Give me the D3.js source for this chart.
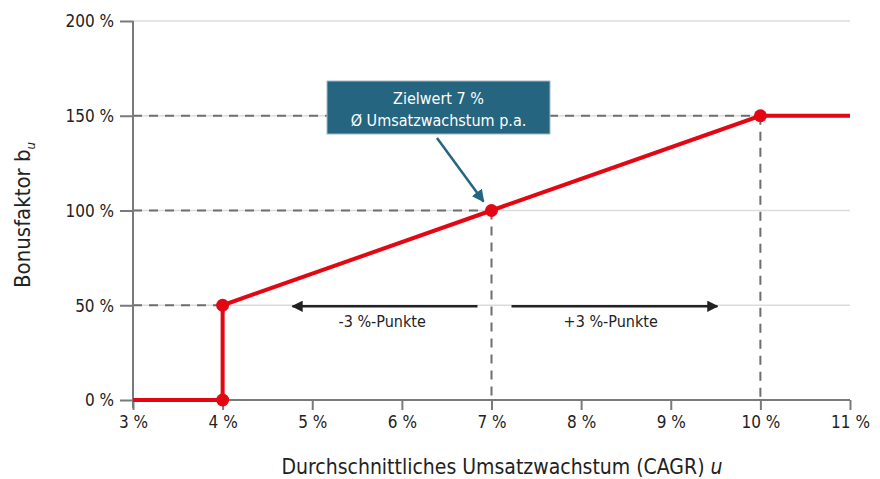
<!DOCTYPE html>
<html><head><meta charset="utf-8">
<script src="https://cdn.jsdelivr.net/npm/d3@7"></script>
<style>
body{margin:0;background:#fff;}
text{font-family:"Liberation Sans Narrow","DejaVu Sans Condensed",sans-serif;}
</style></head>
<body><svg id="c" width="880" height="479"></svg>
<script>
const xTicks = [3,4,5,6,7,8,9,10,11];
const yTicks = [0,50,100,150,200];
const curveX = [3,4,4,7,10,11];
const curveY = [0,0,50,100,150,150];
const markerX = [4,4,7,10];
const markerY = [0,50,100,150];
const guideX = [4,7,10];
const guideY = [50,100,150];

const svg = d3.select("#c");
const x = d3.scaleLinear().domain([3,11]).range([133,850]);
const y = d3.scaleLinear().domain([0,200]).range([400,21]);
const axisCol = "#7a7a7a";
const red = "#e30613";

// light gridlines
svg.append("g").selectAll("line").data(yTicks.filter(d=>d>0)).join("line")
  .attr("x1",x(3)).attr("x2",x(11)).attr("y1",d=>y(d)).attr("y2",d=>y(d))
  .attr("stroke","#dcdcdc").attr("stroke-width",1.5);

// dashed guides
const dash = "9,7";
svg.append("g").selectAll("line").data(guideX.map((g,i)=>[g,guideY[i]])).join("line")
  .attr("x1",x(3)).attr("x2",d=>x(d[0])).attr("y1",d=>y(d[1])).attr("y2",d=>y(d[1]))
  .attr("stroke","#6e6e6e").attr("stroke-width",2).attr("stroke-dasharray",dash);
svg.append("g").selectAll("line").data(guideX.slice(1).map((g,i)=>[g,guideY[i+1]])).join("line")
  .attr("x1",d=>x(d[0])).attr("x2",d=>x(d[0])).attr("y1",d=>y(d[1])).attr("y2",y(0))
  .attr("stroke","#6e6e6e").attr("stroke-width",2).attr("stroke-dasharray",dash);

// axes
const yAxis = d3.axisLeft(y).tickValues(yTicks).tickFormat(d=>d+" %").tickSize(13).tickPadding(6);
const gy = svg.append("g").attr("transform",`translate(${x(3)},0)`).call(yAxis);
const xAxis = d3.axisBottom(x).tickValues(xTicks).tickFormat(d=>d+" %").tickSize(10).tickPadding(6);
const gx = svg.append("g").attr("transform",`translate(0,${y(0)})`).call(xAxis);
[gx,gy].forEach(g=>{
  g.select(".domain").attr("stroke",axisCol).attr("stroke-width",2);
  g.selectAll(".tick line").attr("stroke",axisCol).attr("stroke-width",2);
  g.selectAll(".tick text").attr("fill","#222").attr("font-size",17)
   .style("font-family",'"Liberation Sans Narrow","DejaVu Sans Condensed",sans-serif');
});
gy.select(".domain").attr("d",`M0,${y(200)}V${y(0)+8}`);
gx.select(".domain").attr("d",`M${x(3)},0H${x(11)}`);
gy.selectAll(".tick text").attr("dy","0.35em");

// arrows
const defs = svg.append("defs");
defs.append("marker").attr("id","ah").attr("viewBox","0 0 10 10").attr("refX",9).attr("refY",5)
  .attr("markerWidth",4.5).attr("markerHeight",4.5).attr("orient","auto-start-reverse")
  .append("path").attr("d","M0,0L10,5L0,10z").attr("fill","#222");
defs.append("marker").attr("id","ah2").attr("viewBox","0 0 10 10").attr("refX",9).attr("refY",5)
  .attr("markerWidth",5).attr("markerHeight",5).attr("orient","auto")
  .append("path").attr("d","M0,0L10,5L0,10z").attr("fill","#266580");

const ay = y(50)+1;
svg.append("line").attr("x1",x(7)-14).attr("x2",x(4.78)).attr("y1",ay).attr("y2",ay)
  .attr("stroke","#222").attr("stroke-width",2.5).attr("marker-end","url(#ah)");
svg.append("line").attr("x1",x(7)+20).attr("x2",x(9.52)).attr("y1",ay).attr("y2",ay)
  .attr("stroke","#222").attr("stroke-width",2.5).attr("marker-end","url(#ah)");
svg.append("text").attr("x",x(5.78)).attr("y",ay+21).attr("text-anchor","middle")
  .attr("font-size",16).attr("fill","#222").text("-3 %-Punkte");
svg.append("text").attr("x",x(8.33)).attr("y",ay+21).attr("text-anchor","middle")
  .attr("font-size",16).attr("fill","#222").text("+3 %-Punkte");

// red curve
const line = d3.line().x(d=>x(d[0])).y(d=>y(d[1]));
svg.append("path").datum(curveX.map((v,i)=>[v,curveY[i]])).attr("d",line)
  .attr("fill","none").attr("stroke",red).attr("stroke-width",4);
svg.append("g").selectAll("circle").data(markerX.map((v,i)=>[v,markerY[i]])).join("circle")
  .attr("cx",d=>x(d[0])).attr("cy",d=>y(d[1])).attr("r",6.5).attr("fill",red);

// callout
svg.append("rect").attr("x",327).attr("y",81).attr("width",223).attr("height",53)
  .attr("fill","#266580").attr("stroke","#9fb9c6").attr("stroke-width",1);
svg.append("text").attr("x",438.5).attr("y",104).attr("text-anchor","middle")
  .attr("fill","#fff").attr("font-size",16).text("Zielwert 7 %");
svg.append("text").attr("x",438.5).attr("y",126).attr("text-anchor","middle")
  .attr("fill","#fff").attr("font-size",16).text("Ø Umsatzwachstum p.a.");
svg.append("line").attr("x1",437).attr("y1",138).attr("x2",x(7)-8).attr("y2",y(100)-9)
  .attr("stroke","#266580").attr("stroke-width",2.5).attr("marker-end","url(#ah2)");

// axis titles
const yt = svg.append("text").attr("transform",`translate(30,215) rotate(-90)`)
  .attr("text-anchor","middle").attr("font-size",22).attr("fill","#222");
yt.append("tspan").text("Bonusfaktor b");
yt.append("tspan").attr("font-size",13).attr("font-style","italic").attr("dy",5).text("u");
const xt = svg.append("text").attr("x",502).attr("y",474).attr("text-anchor","middle")
  .attr("font-size",21).attr("fill","#222");
xt.append("tspan").text("Durchschnittliches Umsatzwachstum (CAGR) ");
xt.append("tspan").attr("font-style","italic").text("u");
</script></body></html>
